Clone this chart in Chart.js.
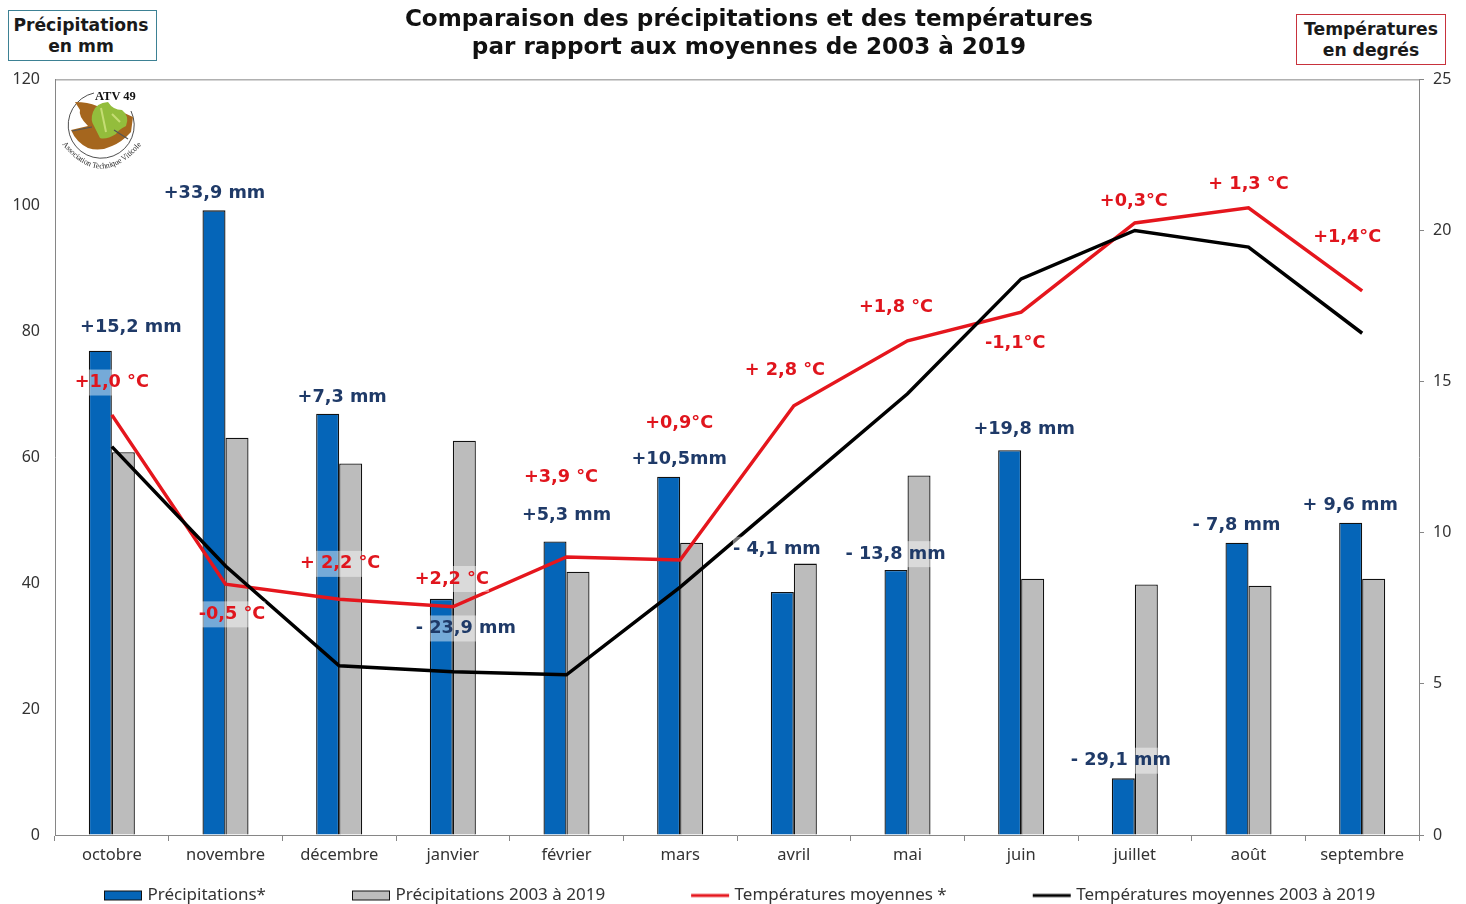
<!DOCTYPE html>
<html lang="fr">
<head>
<meta charset="utf-8">
<title>Précipitations et températures</title>
<script src="https://cdn.jsdelivr.net/npm/chart.js@4"></script>
<style>
html,body{margin:0;padding:0;background:#fff;overflow:hidden}
#wrap{position:relative;width:1466px;height:904px}
canvas{display:block}
.unit{position:absolute;box-sizing:border-box;background:#fff;text-align:center;font:bold 17.2px/21px "DejaVu Sans",sans-serif;color:#1a1a1a;padding-top:4px}
#uL{left:8px;top:10px;width:149px;height:51px;border:1.5px solid #3d8194;padding-right:3px}
#uR{left:1296px;top:14px;width:150px;height:51px;border:1.5px solid #c8323c}
#logo{position:absolute;left:55px;top:85px;width:95px;height:92px}
</style>
</head>
<body>
<div id="wrap">
<canvas id="c" width="1466" height="904"></canvas>
<div class="unit" id="uL">Précipitations<br>en mm</div>
<div class="unit" id="uR">Températures<br>en degrés</div>
<svg id="logo" viewBox="55 85 95 92" xmlns="http://www.w3.org/2000/svg">
  <defs><path id="arcB" d="M62 144 Q101 193 142 144"/></defs>
  <path d="M94 93 A33 33 0 1 0 131 111" fill="none" stroke="#222" stroke-width=".8"/>
  <path d="M75 102 Q88 102 97 106 L122 112 L133 117 L131 132 Q122 142 112 146 Q100 152 88 148 Q76 142 71 130 L88 126 Q78 116 80 110 Z" fill="#a5661e"/>
  <path d="M93 112 Q96 103 108 102 Q113 110 122 110 Q130 116 126 126 Q118 130 116 134 Q106 140 100 138 Q96 130 94 126 Q90 120 93 112 Z" fill="#93bd3c"/>
  <path d="M101 108 L106 132 M112 114 L120 122" stroke="#c5dd74" stroke-width="2" fill="none"/>
  <path d="M72 131 L92 127 M114 130 L128 139" stroke="#555" stroke-width="1.2" fill="none"/>
  <text x="95" y="100" font-family="Liberation Serif" font-weight="bold" font-size="12.5" fill="#111">ATV 49</text>
  <text font-family="Liberation Serif" font-size="8" fill="#222"><textPath href="#arcB" textLength="96" lengthAdjust="spacingAndGlyphs">Association Technique Viticole</textPath></text>
</svg>
</div>
<script>
const categories = ["octobre","novembre","décembre","janvier","février","mars","avril","mai","juin","juillet","août","septembre"];
const precipitations = [76.9,99.2,66.9,37.5,46.6,56.9,38.6,42.1,61.1,9,46.4,49.6];
const precipitationsNormales = [60.8,63.1,59,62.6,41.8,46.4,43.1,57.1,40.7,39.8,39.6,40.7];
const temperatures = [13.9,8.3,7.8,7.55,9.2,9.1,14.2,16.35,17.3,20.25,20.75,18];
const temperaturesNormales = [12.85,8.9,5.6,5.4,5.3,8.2,11.4,14.6,18.4,20,19.45,16.6];

const ecartsPluie = ["+15,2 mm","+33,9 mm","+7,3 mm","- 23,9 mm","+5,3 mm","+10,5mm","- 4,1 mm","- 13,8 mm","+19,8 mm","- 29,1 mm","- 7,8 mm","+ 9,6 mm"];
const ecartsTemp = ["+1,0 °C","-0,5 °C","+ 2,2 °C","+2,2 °C","+3,9 °C","+0,9°C","+ 2,8 °C","+1,8 °C","-1,1°C","+0,3°C","+ 1,3 °C","+1,4°C"];
/* label anchors, in axis units */
const ancrePluie = [80.6,101.9,69.5,32.8,50.8,59.7,45.3,44.6,64.4,11.8,49.2,52.3];
const ancreTemp = [14.97,7.3,8.97,8.47,11.84,13.62,15.37,17.44,16.27,20.95,21.52,19.77];
/* horizontal nudge of labels from category centre, in px */
const decalPluie = [19,-11,3,13,0,-1,-17,-12,3,-14,-12,-12];
const decalTemp = [0,6.5,1,-1,-5.5,-1,-9,-11.5,-6,-1,0,-15];

const BLUE="#0565b8", GREY="#bcbcbc", RED="#e5161d", BLACK="#000", EDGE="#111", FRAME="#868686";
const TICKFONT={family:"'Noto Sans',sans-serif",size:16};

function marker(type,color){
  const cv=document.createElement('canvas'); cv.width=128; cv.height=12;
  const g=cv.getContext('2d'), x=128-39;
  if(type==='bar'){ g.fillStyle=color; g.fillRect(x,1,38,10); g.strokeStyle=EDGE; g.lineWidth=1; g.strokeRect(x+.5,1.5,37,9); }
  else { g.fillStyle=color; g.fillRect(x,4.5,38,3); }
  return cv;
}

const frameAndLabels={
  id:'frameAndLabels',
  afterLayout(chart){
    chart.titleBlock.left+=16; chart.titleBlock.right+=16;
    chart.legend.left=18;
    chart.legend.top+=10; chart.legend.bottom+=10;
  },
  afterDatasetsDraw(chart){
    const {ctx,chartArea:a,scales:{x,y,y1}}=chart;
    ctx.save();
    ctx.strokeStyle=FRAME; ctx.lineWidth=1;
    ctx.beginPath(); ctx.moveTo(a.left,a.top+.5); ctx.lineTo(a.right,a.top+.5); ctx.stroke();
    ctx.font="bold 17.7px 'DejaVu Sans',sans-serif";
    ctx.textAlign='center'; ctx.textBaseline='middle';
    const put=(t,cx,cy,color)=>{
      const w=ctx.measureText(t).width;
      ctx.fillStyle='rgba(255,255,255,.45)';
      ctx.fillRect(cx-w/2,cy-13,w,26);
      ctx.fillStyle=color; ctx.fillText(t,cx,cy);
    };
    ecartsPluie.forEach((t,i)=>put(t,x.getPixelForTick(i)+decalPluie[i],y.getPixelForValue(ancrePluie[i]),"#1f3a68"));
    ecartsTemp.forEach((t,i)=>put(t,x.getPixelForTick(i)+decalTemp[i],y1.getPixelForValue(ancreTemp[i]),"#e0151d"));
    ctx.restore();
  }
};

new Chart(document.getElementById('c'),{
  data:{
    labels:categories,
    datasets:[
      {type:'bar',label:'Précipitations*',data:precipitations,yAxisID:'y',backgroundColor:BLUE,borderColor:EDGE,borderWidth:1.3,order:3,barPercentage:1,categoryPercentage:.405},
      {type:'bar',label:'Précipitations 2003 à 2019',data:precipitationsNormales,yAxisID:'y',backgroundColor:GREY,borderColor:EDGE,borderWidth:1.3,order:3,barPercentage:1,categoryPercentage:.405},
      {type:'line',label:'Températures moyennes *',data:temperatures,yAxisID:'y1',borderColor:RED,backgroundColor:RED,borderWidth:3.5,pointRadius:0,tension:0,order:2},
      {type:'line',label:'Températures moyennes 2003 à 2019',data:temperaturesNormales,yAxisID:'y1',borderColor:BLACK,backgroundColor:BLACK,borderWidth:3.5,pointRadius:0,tension:0,order:1}
    ]
  },
  options:{
    responsive:false,animation:false,
    layout:{padding:0},
    plugins:{
      tooltip:{enabled:false},
      title:{display:true,text:["Comparaison des précipitations et des températures","par rapport aux moyennes de 2003 à 2019"],
        color:"#111",font:{family:"'DejaVu Sans',sans-serif",size:23.1,weight:'bold',lineHeight:1.22},padding:{top:6,bottom:17}},
      legend:{display:true,position:'bottom',align:'start',
        labels:{
          usePointStyle:true,pointStyleWidth:120,padding:1,color:"#333",
          font:{family:"'Noto Sans',sans-serif",size:17},
          generateLabels(chart){
            return chart.data.datasets.map((d,i)=>({
              text:d.label,datasetIndex:i,hidden:false,
              fillStyle:d.backgroundColor,strokeStyle:d.borderColor,lineWidth:0,
              fontColor:"#333",
              pointStyle:marker(d.type,d.backgroundColor)
            }));
          }
        }
      }
    },
    scales:{
      x:{offset:true,
        grid:{display:true,offset:true,drawOnChartArea:false,drawTicks:true,tickLength:6,color:FRAME},
        border:{color:FRAME},
        ticks:{color:"#333",font:{family:"'Noto Sans',sans-serif",size:16.5},padding:4,maxRotation:0,autoSkip:false},
        afterFit(s){s.height=41;}
      },
      y:{position:'left',min:0,max:120,
        grid:{drawOnChartArea:false,drawTicks:false},
        border:{color:FRAME},
        ticks:{stepSize:20,color:"#333",font:TICKFONT,padding:15},
        afterFit(s){s.width=55;}
      },
      y1:{position:'right',min:0,max:25,
        grid:{drawOnChartArea:false,drawTicks:true,tickLength:5,color:FRAME},
        border:{color:FRAME},
        ticks:{stepSize:5,color:"#333",font:TICKFONT,padding:9},
        afterFit(s){s.width=47;}
      }
    }
  },
  plugins:[frameAndLabels]
});
</script>
</body>
</html>
